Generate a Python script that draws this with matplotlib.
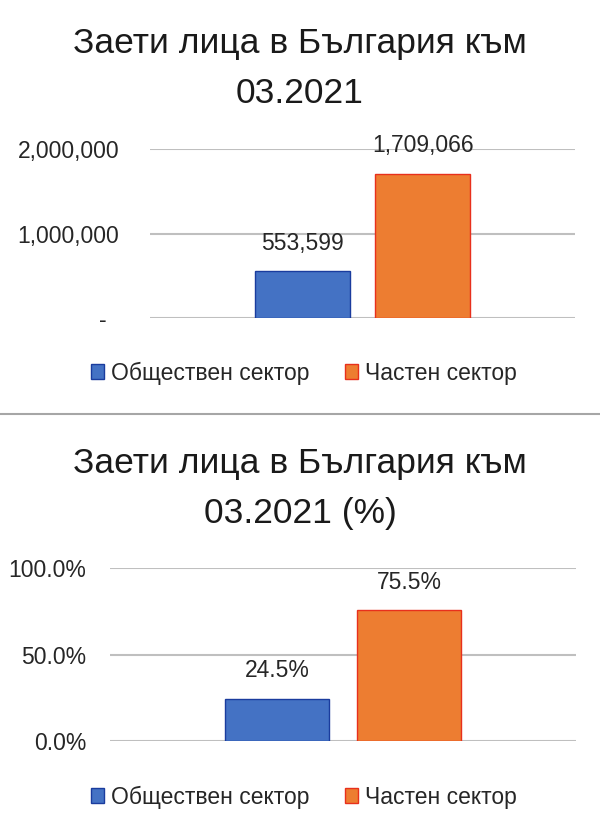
import matplotlib.pyplot as plt
from matplotlib.lines import Line2D

plt.rcParams['font.family'] = ['Liberation Sans', 'DejaVu Sans']

# data
sectors = ['Обществен сектор', 'Частен сектор']
employed = [553599, 1709066]
shares = [0.245, 0.755]
colors = ['#4472C4', '#ED7D31']
edges = ['#1A3C9E', '#E8301C']

title_1 = 'Заети лица в България към'
title_top_2 = '03.2021'
title_bottom_2 = '03.2021 (%)'

H = 831.0
fig = plt.figure(figsize=(6, 8.31), dpi=100)


def fy(px):
    return 1 - px / H


def bars(ax, values, labels):
    width = 0.223
    gap = 0.061
    offsets = [-(width + gap) / 2, (width + gap) / 2]
    handles = []
    for i in range(len(values)):
        b = ax.bar(0 + offsets[i], values[i], width, color=colors[i],
                   edgecolor=edges[i], linewidth=1.0, zorder=3, label=sectors[i])
        handles.append(b)
        ax.annotate(labels[i], (0 + offsets[i], values[i]), xytext=(0, 28),
                    textcoords='offset pixels', ha='center', va='center',
                    fontsize=16.5, color='#262626')
    ax.set_xlim(-0.5, 0.5)
    ax.set_xticks([])
    for s in ax.spines.values():
        s.set_visible(False)
    ax.grid(axis='y', color='#BFBFBF', linewidth=1.5, zorder=0)
    ax.tick_params(axis='y', length=0, labelsize=16.5, labelcolor='#262626')
    return handles


# top chart - absolute numbers
ax1 = fig.add_axes([150 / 600, fy(318), 425 / 600, (318 - 149) / H])
h = bars(ax1, employed, ['{:,}'.format(v) for v in employed])
ax1.set_ylim(0, 2000000)
ax1.set_yticks([0, 1000000, 2000000])
ax1.set_yticklabels(['-  ', '1,000,000', '2,000,000'])
ax1.tick_params(axis='y', pad=22)
fig.legend(h, sectors, loc='center', bbox_to_anchor=(303.5 / 600, fy(373)),
           ncol=2, frameon=False, fontsize=16.5, handlelength=0.57,
           handleheight=0.57, handletextpad=0.3, columnspacing=1.55,
           labelcolor='#262626')
fig.text(0.5, fy(53), title_1, ha='center', va='baseline', fontsize=25.5, color='#1a1a1a')
fig.text(0.5, fy(103), title_top_2, ha='center', va='baseline', fontsize=25.5, color='#1a1a1a')

# separator
fig.add_artist(Line2D([0, 1], [fy(414), fy(414)], color='#A6A6A6', linewidth=1.5))

# bottom chart - shares
ax2 = fig.add_axes([110 / 600, fy(741), 466 / 600, (741 - 568) / H])
h = bars(ax2, shares, ['{:.1%}'.format(v) for v in shares])
ax2.set_ylim(0, 1)
ax2.set_yticks([0, 0.5, 1])
ax2.set_yticklabels(['0.0%', '50.0%', '100.0%'])
ax2.tick_params(axis='y', pad=17)
fig.legend(h, sectors, loc='center', bbox_to_anchor=(304 / 600, fy(797)),
           ncol=2, frameon=False, fontsize=16.5, handlelength=0.57,
           handleheight=0.57, handletextpad=0.3, columnspacing=1.55,
           labelcolor='#262626')
fig.text(0.5, fy(473), title_1, ha='center', va='baseline', fontsize=25.5, color='#1a1a1a')
fig.text(0.5, fy(523), title_bottom_2, ha='center', va='baseline', fontsize=25.5, color='#1a1a1a')

fig.savefig('out.png', dpi=100)
